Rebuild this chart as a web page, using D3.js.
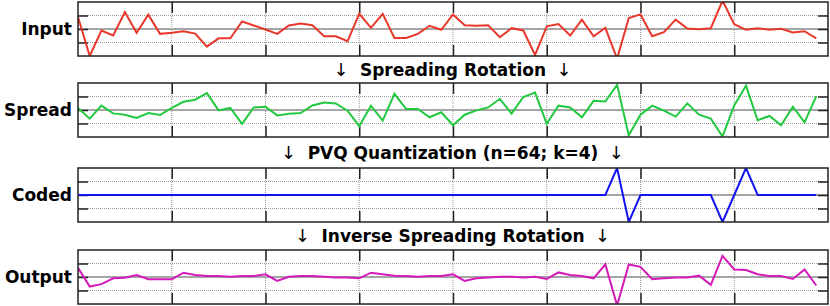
<!DOCTYPE html>
<html>
<head>
<meta charset="utf-8">
<script src="https://cdn.jsdelivr.net/npm/d3@7"></script>
<style>
  body { margin: 0; background: #fff; }
  text { font-family: "DejaVu Sans", sans-serif; font-weight: bold; }
</style>
</head>
<body>
<div id="chart"></div>
<script>
// values, one per coefficient (n = 64)
const inputVals = [0.88, -2, -0.11, -0.48, 1.25, -0.28, 1.06, -0.36, -0.28, -0.16, -0.34, -1.3, -0.69, -0.69, 0.56, 0.26,
  -0.04, -0.36, 0.26, 0.41, 0.28, -0.54, -0.54, -0.91, 1.13, 0.09, 1.13, -0.66, -0.66, -0.36, 0.24, -0.06,
  1.08, 0.28, 0.24, 0.28, -0.61, 0.06, -0.11, -1.93, 0.2, 0.36, -0.48, 0.69, -0.54, 0.09, -2.2, 0.81,
  1.08, -0.54, -0.24, 0.69, 0.04, -0.01, 0.06, 2.1, 0.36, -0.06, 0.06, -0.06, 0.01, -0.26, -0.16, -0.69];
const spreadVals = [0.15, -0.64, 0.32, -0.25, -0.35, -0.59, -0.22, -0.37, 0.15, 0.61, 0.76, 1.25, -0.03, 0.15, -1.03, 0.19,
  0.24, -0.4, -0.27, -0.22, 0.34, 0.56, 0.49, -0.05, -1.2, 0.32, -0.79, 1.2, 0.07, 0.07, -0.54, -0.17,
  -1.13, -0.35, -0.03, 0.19, 0.83, -0.27, 0.96, 1.29, -1.03, 0.32, 0.19, -0.54, 0.68, 0.63, 1.86, -1.87,
  -0.35, 0.32, -0.05, -0.49, 0.49, -0.35, -0.64, -1.96, 0.34, 1.81, -0.76, -0.44, -1.13, 0.24, -0.91, 1.03];
const codedVals = [0, 0, 0, 0, 0, 0, 0, 0, 0, 0, 0, 0, 0, 0, 0, 0,
  0, 0, 0, 0, 0, 0, 0, 0, 0, 0, 0, 0, 0, 0, 0, 0,
  0, 0, 0, 0, 0, 0, 0, 0, 0, 0, 0, 0, 0, 0, 2, -2,
  0, 0, 0, 0, 0, 0, 0, -2, 0, 2, 0, 0, 0, 0, 0, 0];
const outputVals = [0.68, -0.71, -0.53, -0.1, -0.05, 0.15, -0.17, -0.17, -0.17, 0.32, 0.15, 0.07, 0.07, 0.02, 0.07, 0.07,
  0.2, -0.29, 0.02, 0.07, 0.07, 0.02, -0.03, -0.03, -0.1, 0.32, 0.2, 0.1, 0.07, 0.02, 0.07, 0.07,
  0.2, -0.29, -0.1, -0.03, 0.02, 0.02, -0.03, 0.02, -0.15, 0.34, 0.15, 0.07, -0.1, 0.93, -2.1, 0.93,
  0.75, -0.17, -0.1, -0.03, -0.03, 0.1, -0.58, 1.56, 0.56, 0.51, 0.2, 0.07, 0.07, -0.15, 0.56, -0.63];

const panelNames = ["Input", "Spread", "Coded", "Output"];
const stepLabels = ["Spreading Rotation", "PVQ Quantization (n=64; k=4)", "Inverse Spreading Rotation"];
const yTicks = [-1, 0, 1];
const xTicks = [8, 16, 24, 32, 40, 48, 56];

const series = [inputVals, spreadVals, codedVals, outputVals];
const colors = ["#e8382c", "#22c840", "#1414f0", "#d41ab8"];

const W = 830, H = 306;
const LEFT = 78, RIGHT = 828;
const panelTop = [2, 83, 168, 250];
const PH = 54;

const svg = d3.select("#chart").append("svg")
  .attr("width", W)
  .attr("height", H);

const x = d3.scaleLinear().domain([0, 64]).range([LEFT, RIGHT]);

series.forEach((vals, p) => {
  const top = panelTop[p];
  const y = d3.scaleLinear().domain([-2, 2]).range([top + PH, top]);
  const g = svg.append("g");

  g.append("clipPath").attr("id", "clip" + p)
    .append("rect")
    .attr("x", LEFT).attr("y", top)
    .attr("width", RIGHT - LEFT).attr("height", PH);

  // dotted grid
  g.selectAll(".hgrid").data(yTicks.filter(d => d !== 0)).enter().append("line")
    .attr("x1", LEFT).attr("x2", RIGHT)
    .attr("y1", d => y(d)).attr("y2", d => y(d))
    .attr("stroke", "#9a9a9a").attr("stroke-width", 1).attr("stroke-dasharray", "1,1");
  g.selectAll(".vgrid").data(xTicks).enter().append("line")
    .attr("x1", d => x(d)).attr("x2", d => x(d))
    .attr("y1", top).attr("y2", top + PH)
    .attr("stroke", "#9a9a9a").attr("stroke-width", 1).attr("stroke-dasharray", "1,1");

  // zero line
  g.append("line")
    .attr("x1", LEFT).attr("x2", RIGHT)
    .attr("y1", y(0)).attr("y2", y(0))
    .attr("stroke", "#a6a6a6").attr("stroke-width", 2);

  // ticks
  const yAxisL = d3.axisRight(y).tickValues(yTicks).tickSize(10).tickFormat("");
  const yAxisR = d3.axisLeft(y).tickValues(yTicks).tickSize(10).tickFormat("");
  const xAxisT = d3.axisBottom(x).tickValues(xTicks).tickSize(11).tickFormat("");
  const xAxisB = d3.axisTop(x).tickValues(xTicks).tickSize(11).tickFormat("");
  [[yAxisL, `translate(${LEFT},0)`], [yAxisR, `translate(${RIGHT},0)`],
   [xAxisT, `translate(0,${top})`], [xAxisB, `translate(0,${top + PH})`]].forEach(([ax, tr]) => {
    const a = g.append("g").attr("transform", tr).call(ax);
    a.select(".domain").remove();
    a.selectAll(".tick line").attr("stroke", "#222").attr("stroke-width", 1.5);
  });

  // data line
  g.append("path")
    .datum(vals)
    .attr("clip-path", `url(#clip${p})`)
    .attr("fill", "none")
    .attr("stroke", colors[p])
    .attr("stroke-width", 2)
    .attr("stroke-linejoin", "miter")
    .attr("d", d3.line().x((d, i) => x(i)).y(d => y(d)));

  // border
  g.append("rect")
    .attr("x", LEFT).attr("y", top)
    .attr("width", RIGHT - LEFT).attr("height", PH)
    .attr("fill", "none").attr("stroke", "#222").attr("stroke-width", 1.5);

  g.append("text")
    .attr("x", 72).attr("y", y(0))
    .attr("dy", "0.36em")
    .attr("text-anchor", "end")
    .attr("font-size", "17px")
    .text(panelNames[p]);
});

// step captions with an arrow on each side
stepLabels.forEach((t, i) => {
  const cy = (panelTop[i] + PH + panelTop[i + 1]) / 2;
  const lbl = svg.append("text")
    .attr("x", (LEFT + RIGHT) / 2)
    .attr("y", cy)
    .attr("dy", "0.36em")
    .attr("text-anchor", "middle")
    .attr("font-size", "17px")
    .text(t);
  const bb = lbl.node().getBBox();
  [bb.x - 19, bb.x + bb.width + 18].forEach(ax => {
    svg.append("text")
      .attr("x", ax)
      .attr("y", cy)
      .attr("dy", "0.36em")
      .attr("text-anchor", "middle")
      .attr("font-size", "18px")
      .style("font-weight", "normal")
      .text("\u2193");
  });
});
</script>
</body>
</html>
